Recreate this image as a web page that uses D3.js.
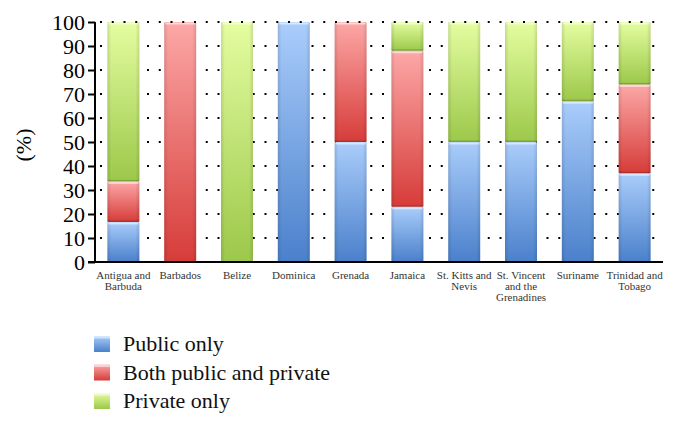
<!DOCTYPE html>
<html>
<head>
<meta charset="utf-8">
<style>
    body { margin: 0; background: #fff; }
    svg { display: block; font-family: 'Liberation Serif', 'Times New Roman', serif; }
    svg text { font-family: 'Liberation Serif', 'Times New Roman', serif; }
</style>
</head>
<body>
<svg width="679" height="425"></svg>

<script src="https://d3js.org/d3.v7.min.js"></script>
<script>
    // countries (x labels, split over lines as in the picture)
    let countries = ["Antigua and Barbuda", "Barbados", "Belize", "Dominica", "Grenada",
        "Jamaica", "St. Kitts and Nevis", "St. Vincent and the Grenadines", "Suriname", "Trinidad and Tobago"]
    let labelLines = [["Antigua and", "Barbuda"], ["Barbados"], ["Belize"], ["Dominica"], ["Grenada"],
        ["Jamaica"], ["St. Kitts and", "Nevis"], ["St. Vincent", "and the", "Grenadines"], ["Suriname"], ["Trinidad and", "Tobago"]]

    // series, in %
    let seriesNames = ["Public only", "Both public and private", "Private only"]
    let publicOnly = [16.7, 0, 0, 100, 50, 23, 50, 50, 67, 37]
    let bothPubPriv = [16.9, 100, 0, 0, 50, 65, 0, 0, 0, 37]
    let privateOnly = [66.4, 0, 100, 0, 0, 12, 50, 50, 33, 26]
    let yTicks = [0, 10, 20, 30, 40, 50, 60, 70, 80, 90, 100]

    let rows = countries.map((c, i) => ({
        country: c,
        "Public only": publicOnly[i],
        "Both public and private": bothPubPriv[i],
        "Private only": privateOnly[i]
    }))

    let svg = d3.select("svg")
    let mLeft = 95, mRight = 663, mTop = 22, mBottom = 262

    let x = d3.scaleBand().domain(countries).range([mLeft, mRight]).paddingInner(0.437).paddingOuter(0.218)
    let y = d3.scaleLinear().domain([0, 100]).range([mBottom, mTop])

    // gradients for the bevelled bars
    let colors = {
        "Public only": ["#aacdfb", "#4a80cb"],
        "Both public and private": ["#fca8a7", "#d63c39"],
        "Private only": ["#e4fda0", "#9cc84a"]
    }
    let defs = svg.append("defs")
    seriesNames.forEach((s, i) => {
        let g = defs.append("linearGradient").attr("id", "g" + i)
            .attr("x1", 0).attr("y1", 0).attr("x2", 0).attr("y2", 1)
        g.append("stop").attr("offset", "0%").attr("stop-color", colors[s][0])
        g.append("stop").attr("offset", "100%").attr("stop-color", colors[s][1])
    })
    let side = defs.append("linearGradient").attr("id", "side")
        .attr("x1", 0).attr("y1", 0).attr("x2", 1).attr("y2", 0)
    side.append("stop").attr("offset", "0%").attr("stop-color", "#000").attr("stop-opacity", 0.12)
    side.append("stop").attr("offset", "12%").attr("stop-color", "#000").attr("stop-opacity", 0)
    side.append("stop").attr("offset", "88%").attr("stop-color", "#000").attr("stop-opacity", 0)
    side.append("stop").attr("offset", "100%").attr("stop-color", "#000").attr("stop-opacity", 0.12)

    // dotted grid
    svg.append("g")
        .selectAll("line")
        .data(yTicks.filter(d => d > 0 && d < 100))
        .join("line")
        .attr("x1", mLeft).attr("x2", mRight)
        .attr("y1", d => y(d)).attr("y2", d => y(d))
        .style("stroke", "#000")
        .style("stroke-width", 2)
        .style("stroke-dasharray", "2,9.75")
        .style("stroke-dashoffset", -5)

    // bars
    let stacked = d3.stack().keys(seriesNames)(rows)
    stacked.forEach((layer, i) => {
        let g = svg.append("g")
        let segs = layer.filter(d => d[1] - d[0] > 0)
        g.selectAll(".seg")
            .data(segs)
            .join("rect")
            .attr("x", d => x(d.data.country))
            .attr("width", x.bandwidth())
            .attr("y", d => y(d[1]))
            .attr("height", d => y(d[0]) - y(d[1]))
            .attr("rx", 1.5)
            .style("fill", "url(#g" + i + ")")
        g.selectAll(".shade")
            .data(segs)
            .join("rect")
            .attr("x", d => x(d.data.country))
            .attr("width", x.bandwidth())
            .attr("y", d => y(d[1]))
            .attr("height", d => y(d[0]) - y(d[1]))
            .style("fill", "url(#side)")
        // light strip at the top of each segment
        g.selectAll(".hi")
            .data(segs)
            .join("rect")
            .attr("x", d => x(d.data.country) + 1)
            .attr("width", x.bandwidth() - 2)
            .attr("y", d => y(d[1]) + 0.5)
            .attr("height", 2)
            .style("fill", "#fff")
            .style("opacity", 0.55)
        // darker edge at the bottom of each segment
        g.selectAll(".lo")
            .data(segs.filter(d => d[0] > 0))
            .join("rect")
            .attr("x", d => x(d.data.country))
            .attr("width", x.bandwidth())
            .attr("y", d => y(d[0]) - 1.5)
            .attr("height", 1.5)
            .style("fill", "#000")
            .style("opacity", 0.18)
    })

    // the top dotted line sits over the bars
    svg.append("line")
        .attr("x1", mLeft).attr("x2", mRight)
        .attr("y1", y(100)).attr("y2", y(100))
        .style("stroke", "#000")
        .style("stroke-width", 2)
        .style("stroke-dasharray", "2,9.75")
        .style("stroke-dashoffset", -5)

    // y axis
    let yAxis = svg.append("g")
        .attr("transform", `translate(${mLeft},0)`)
        .call(d3.axisLeft(y).tickValues(yTicks).tickSize(7).tickPadding(3))
        .attr("font-family", null)
        .attr("font-size", null)
    yAxis.select(".domain").attr("d", `M0,${mTop}V${mBottom}`).style("stroke-width", 2)
    yAxis.selectAll(".tick line").style("stroke-width", 2)
    yAxis.selectAll("text").style("font-size", "22px").attr("fill", "#000")

    // x axis line
    svg.append("line")
        .attr("x1", mLeft - 7).attr("x2", mRight)
        .attr("y1", mBottom).attr("y2", mBottom)
        .style("stroke", "#000").style("stroke-width", 2)

    // x labels
    svg.append("g")
        .selectAll("text")
        .data(countries)
        .join("text")
        .attr("x", d => x(d) + x.bandwidth() / 2)
        .attr("y", 279)
        .attr("text-anchor", "middle")
        .style("font-size", "11px")
        .style("fill", "#333")
        .selectAll("tspan")
        .data((d, i) => labelLines[i])
        .join("tspan")
        .attr("x", function () { return d3.select(this.parentNode).attr("x") })
        .attr("dy", (d, i) => i === 0 ? 0 : 11)
        .text(d => d)

    // y title
    svg.append("text")
        .attr("transform", "translate(31,145) rotate(-90)")
        .attr("text-anchor", "middle")
        .style("font-size", "22px")
        .text("(%)")

    // legend
    let legend = svg.append("g")
        .selectAll("g")
        .data(seriesNames)
        .join("g")
        .attr("transform", (d, i) => `translate(94,${336 + i * 28.5})`)
    legend.append("rect")
        .attr("width", 16).attr("height", 16)
        .style("fill", (d, i) => "url(#g" + i + ")")
    legend.append("rect")
        .attr("width", 16).attr("height", 2.5)
        .style("fill", "#fff").style("opacity", 0.5)
    legend.append("text")
        .attr("x", 29).attr("y", 15)
        .style("font-size", "22px")
        .style("fill", "#111")
        .text(d => d)
</script>
</body>
</html>
